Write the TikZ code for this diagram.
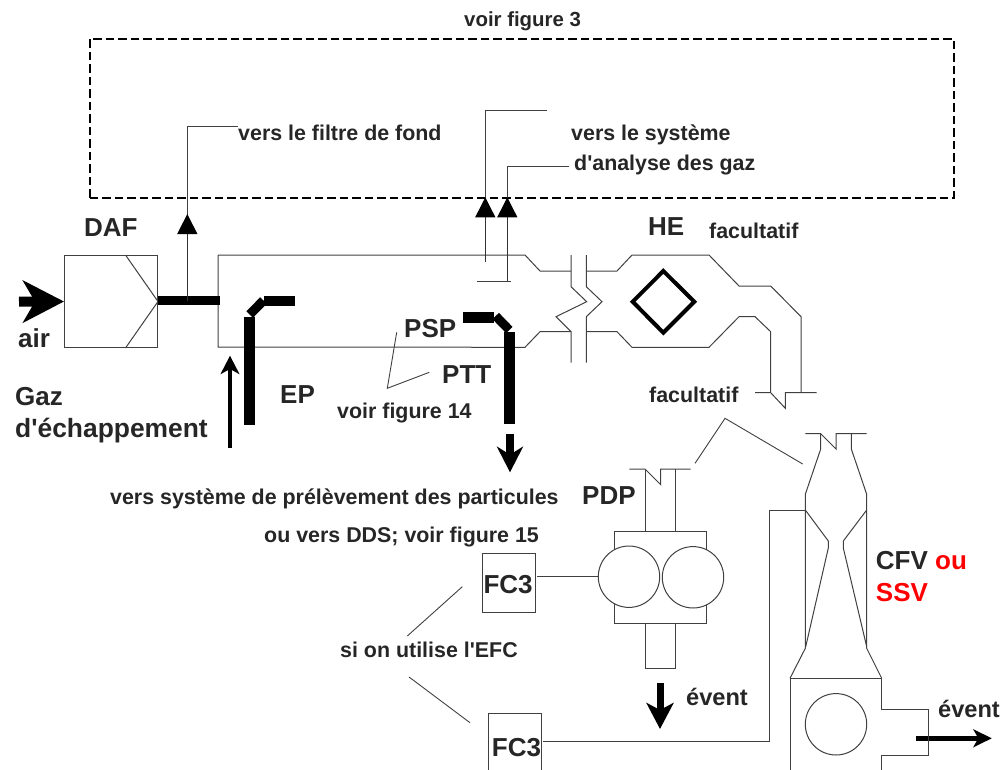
\documentclass[tikz,border=0pt]{standalone}
\usepackage{fontspec}
\setmainfont{Liberation Sans}
\usetikzlibrary{positioning, arrows.meta}

\begin{document}
\begin{tikzpicture}[
      x=1pt, y=-1pt,
      wall/.style={draw=black!75, line width=1pt, line join=miter},
      box/.style={rectangle, wall, inner sep=0pt, anchor=north west},
      lobe/.style={circle, wall, fill=white, inner sep=0pt, minimum size=61.4pt},
      pipe/.style={draw=black, line width=9pt},
      leader/.style={draw=black!75, line width=0.9pt},
      txt/.style={anchor=base west, inner sep=0pt, text=black!85, font=\fontsize{21.4}{24}\bfseries},
      big/.style={txt, font=\fontsize{26}{30}\bfseries},
      probe/.style={draw=black!80, line width=1pt, -{Triangle[length=20pt,width=20pt,black]}},
      flow/.style={draw=black}
    ]
      \useasboundingbox (0,0) rectangle (1003,770);

      % frame of figure 3
      \node (frame) [box, draw=black, line width=1.8pt, dash pattern=on 8.5pt off 4pt, minimum width=864pt, minimum height=159pt] at (89,38) {};
      \node (voir3) [txt, font=\fontsize{20.4}{24}\bfseries] at (464,26.5) {voir figure 3};

      % labels
      \node (filtre) [txt] at (238,140.5) {vers le filtre de fond};
      \node (systeme) [txt] at (571,140.5) {vers le système};
      \node (analyse) [txt] at (574,170.5) {d\textquotesingle analyse des gaz};
      \node (he) [big] at (648,235) {HE};
      \node (facHE) [txt] at (709,238) {facultatif};
      \node (daflbl) [big] at (84,236) {DAF};
      \node (airlbl) [big] at (18,347) {air};
      \node (gaz) [big] at (15,405) {Gaz};
      \node (echap) [big, font=\fontsize{26.4}{30}\bfseries] at (15,437) {d\textquotesingle échappement};
      \node (ep) [big] at (280,403) {EP};
      \node (psp) [big] at (404,337) {PSP};
      \node (ptt) [big] at (442,383) {PTT};
      \node (voir14) [txt] at (337,418.5) {voir figure 14};
      \node (facCFV) [txt] at (649,402) {facultatif};
      \node (part1) [txt] at (110,504) {vers système de prélèvement des particules};
      \node (part2) [txt] at (264,542) {ou vers DDS; voir figure 15};
      \node (pdp) [big] at (582,504) {PDP};
      \node (efc) [txt] at (340,657) {si on utilise l\textquotesingle EFC};
      \node (event1) [big, font=\fontsize{23.6}{26}\bfseries] at (686,705) {évent};
      \node (event2) [big, font=\fontsize{23.6}{26}\bfseries] at (938,717) {évent};
      \node (cfvlbl) [big] at (875.7,569) {CFV \textcolor{red}{ou}};
      \node (ssvlbl) [big, text=red] at (875.7,601) {SSV};

      % dilution air filter
      \node (daf) [box, minimum width=93pt, minimum height=92pt] at (64,255) {};
      \draw [wall] (daf.north west) ++(61.5,0) coordinate (dafa) -- (daf.east) -- (daf.south west -| dafa);

      % tunnel outline
      \draw [wall] (218,255) coordinate (tunA) |- (218,347) coordinate (tunB) -- (525,347.3) -- (540,331.7) -- (571,331.7);
      \draw [wall] (tunA) -- (525,255) -- (540,271) -- (571,271);
      \draw [wall] (571,255) -- (571,286.7) -- (586.7,301.7) -- (556,316.7) -- (571,331.7) -- (571,362.7);
      \draw [wall] (586.3,255) -- (586.3,286.7) -- (602,301.7) -- (586.3,316.7) -- (586.3,362.7);
      \draw [wall] (587,271) -- (617,271) -- (632,255) -- (709,255) -- (739,286) -- (770.7,286) -- (801,316.7) -- (801,392.7);
      \draw [wall] (587,331.7) -- (617,331.7) -- (632,347.3) -- (709,347.3) -- (739,316.7) -- (755,316.7) -- (770.7,331.7) -- (770.7,392.7);
      \draw [wall] (755,392.7) -- (770.7,392.7) -- (785.3,408.3) -- (785.3,392.7) -- (816.7,392.7);
      \draw [draw=black, line width=4pt, line join=miter] (663.3,271) -- (694.3,301.7) -- (663.3,332.7) -- (632.7,301.7) -- cycle;

      % thick pipes
      \coordinate (dafout) at (158,300.7);
      \coordinate (tee) at (187.3,300.7);
      \draw [pipe] (dafout) -- (220,300.7);
      \draw [pipe, line width=11pt] (249.5,425) -- (249.5,317);
      \draw [pipe, line width=9.3pt] (249.7,314.5) -- (263.5,300.5);
      \draw [pipe, line width=10pt] (264,300.7) -- (295,300.7);
      \draw [pipe, line width=10.3pt] (463.3,317.5) -- (494,317.5);
      \draw [pipe, line width=9pt] (495.7,316) -- (509.3,330);
      \draw [pipe, line width=11pt] (509.5,332.3) -- (509.5,424);

      % take-offs
      \coordinate (filtreB) at (187.3,127);
      \coordinate (probeA) at (485.3,261.7);
      \coordinate (probeB) at (507.3,281);
      \draw [wall] (tee) -- (filtreB) -- (filtre.base west |- filtreB);
      \draw [probe] (tee) -- (187.3,214);
      \draw [wall] (probeA) -- (485.3,111) -- (546.7,111);
      \draw [probe] (probeA) -- (485.3,197.3);
      \draw [wall] (477.3,281) -- (510.7,281);
      \draw [wall] (probeB) -- (507.3,167) -- (569,167);
      \draw [probe] (probeB) -- (507.3,197.3);

      % flow arrows
      \draw [flow, line width=10pt, -{Stealth[length=41pt,width=42pt,inset=12pt]}] (19,301.6) -- (daf.west);
      \draw [flow, line width=3.5pt, -{Stealth[length=18.3pt,width=18.7pt,inset=5pt]}] (230,447.6) -- (230,355.7);
      \draw [flow, line width=7.3pt, -{Stealth[length=25.6pt,width=26pt,inset=8pt]}] (510,434) -- (510,472.3);
      \draw [flow, line width=7pt, -{Stealth[length=26pt,width=27pt,inset=7pt]}] (660,683) -- (660,729);
      \draw [flow, line width=5pt, -{Stealth[length=18.4pt,width=18pt,inset=5pt]}] (916,738.3) -- (991.7,738.3);

      % PDP
      \draw [wall] (629.3,469) -- (645,469) -- (660.7,484.7) -- (660.7,469) -- (690.7,469);
      \draw [wall] (645,469) -- (645,530.7);
      \draw [wall] (675,469) -- (675,530.7);
      \node (pump) [box, minimum width=92.3pt, minimum height=92pt] at (613.7,530.7) {};
      \node (lobeA) [lobe] at (629,576.7) {};
      \node (lobeB) [lobe] at (693,577.3) {};
      \draw [wall] (645,622.7) |- (675,668.3) -- (675,622.7);
      \node (fcA) [box, minimum width=53pt, minimum height=59.3pt] at (482.3,552.7) {};
      \node (fcAlbl) [big] at (483.3,593) {FC3};
      \draw [wall] (537,576.7) -- (lobeA.west);

      % CFV
      \draw [wall] (805.3,433.7) -- (820.7,433.7) -- (836,449) -- (836,433.7) -- (866.7,433.7);
      \draw [wall] (820.7,433.7) -- (820.7,449) -- (805.3,494.3) -- (805.3,648.3) -- (790,678.3);
      \draw [wall] (851.3,433.7) -- (851.3,449) -- (866.7,494.3) -- (866.7,648.3) -- (881.7,678.3);
      \draw [wall] (805.3,510) -- (828.3,541) -- (828.3,548) -- (805.7,646.7);
      \draw [wall] (866.7,510) -- (843.3,541) -- (843.3,548) -- (866.7,646.7);
      \draw [wall] (790,769.5) -- (790,678.3) -- (881.7,678.3) -- (881.7,709.3) -- (928.3,709.3) -- (928.3,755) -- (881.7,755) -- (881.7,769.5);
      \node (blower) [lobe] at (836,724.3) {};

      % lower FC3
      \coordinate (fcBnw) at (488.3,713.3);
      \coordinate (fcBne) at (541.3,713.3);
      \draw [wall] (488.3,769.5) -- (fcBnw) -- (fcBne) -- (541.3,769.5);
      \node (fcBlbl) [big] at (491.7,756) {FC3};
      \draw [wall] (542.7,741) -- (769.3,741) -- (769.3,510) -- (805.3,510);

      % leaders
      \draw [leader] (396.7,332.3) -- (387.3,388.3) -- (429.3,372.3);
      \draw [leader] (695,463.3) -- (725,418.3) -- (802.7,464);
      \draw [leader] (462.3,586.7) -- (407.3,636);
      \draw [leader] (409,677) -- (470,722.7);
    \end{tikzpicture}
\end{document}
